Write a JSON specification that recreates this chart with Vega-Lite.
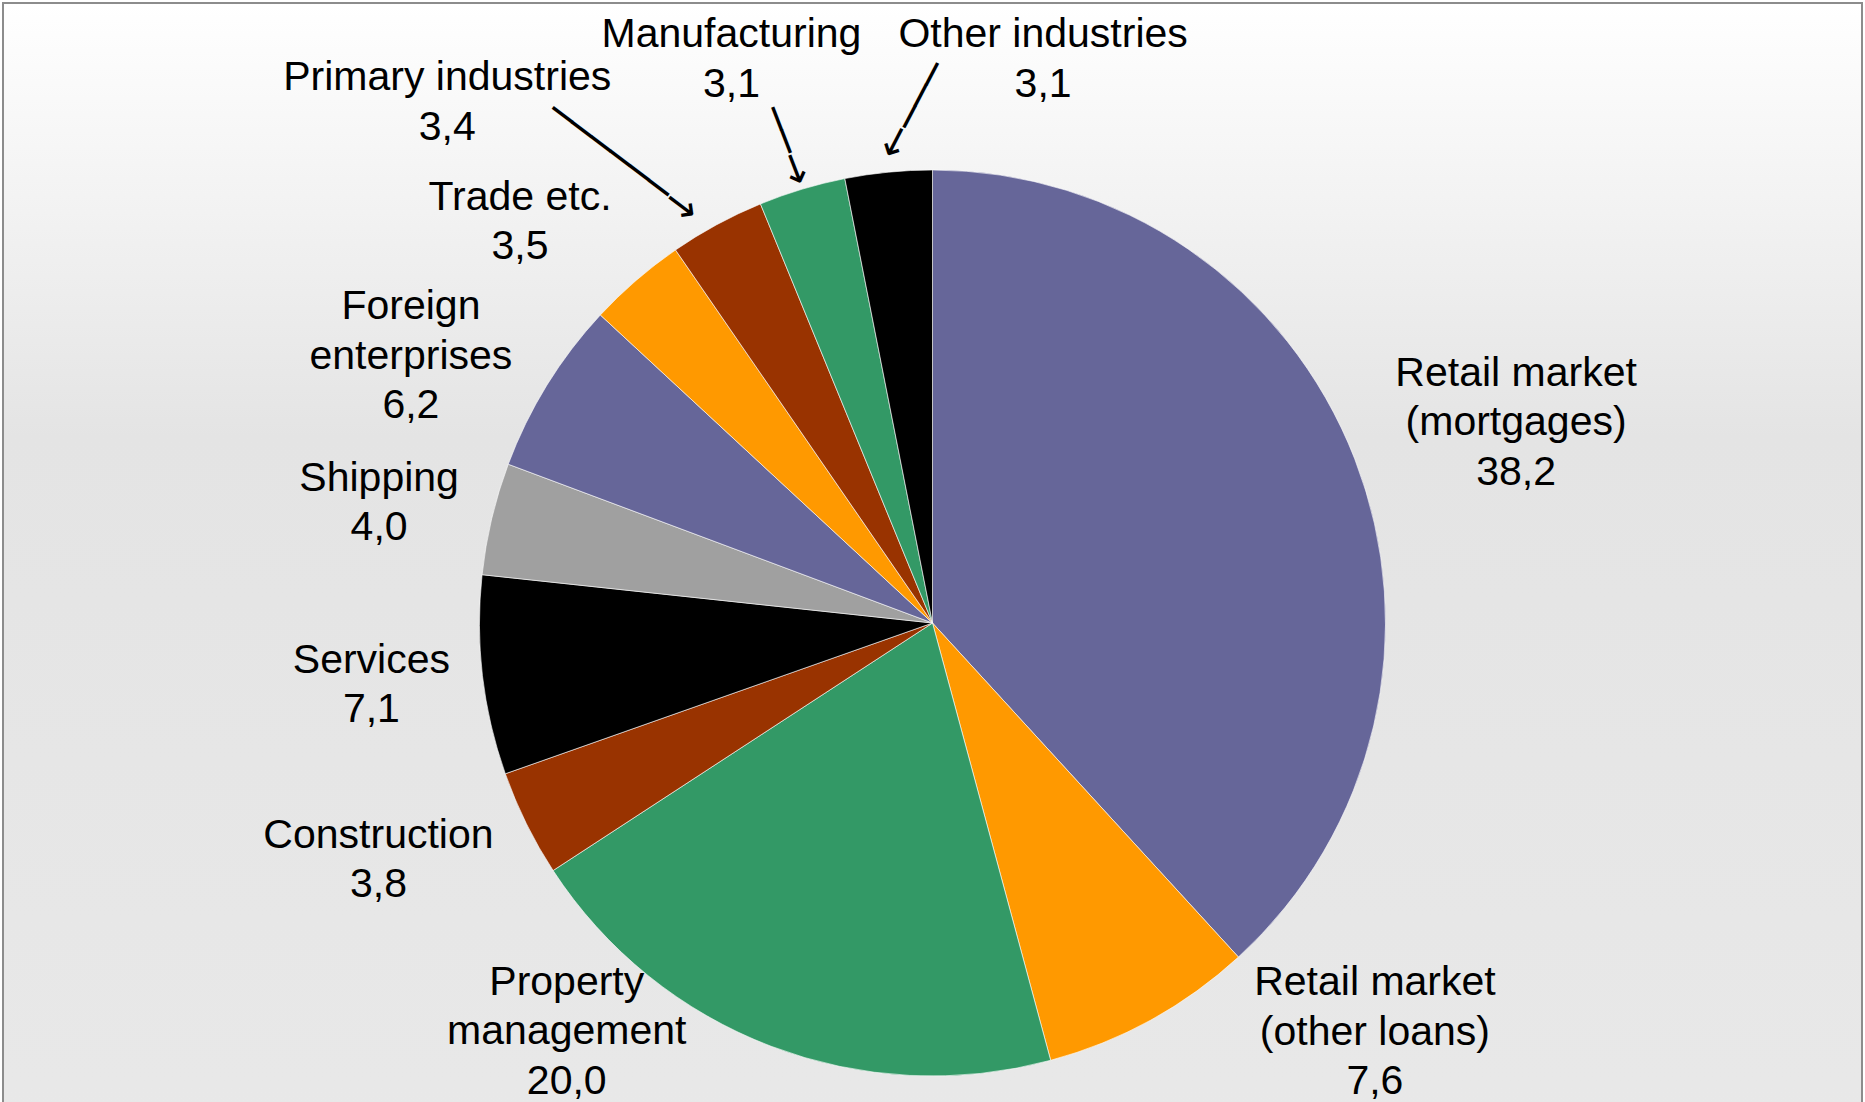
{
  "$schema": "https://vega.github.io/schema/vega-lite/v6.json",
  "width": 1859,
  "height": 1240,
  "autosize": {"type": "none"},
  "padding": {"left": 3, "top": 3, "right": 3, "bottom": 0},
  "background": "#ffffff",
  "view": {
    "fill": {"gradient": "linear", "x1": 0, "y1": 0, "x2": 0, "y2": 1, "stops": [{"offset": 0, "color": "#ffffff"}, {"offset": 0.35, "color": "#e4e4e4"}, {"offset": 1, "color": "#e9e9e9"}]},
    "stroke": "#8c8c8c",
    "strokeWidth": 2
  },
  "config": {"font": "Liberation Sans"},
  "data": {
    "values": [
      {"k": 1, "category": "Retail market\n(mortgages)", "value": 38.2},
      {"k": 2, "category": "Retail market\n(other loans)", "value": 7.6},
      {"k": 3, "category": "Property\nmanagement", "value": 20.0},
      {"k": 4, "category": "Construction", "value": 3.8},
      {"k": 5, "category": "Services", "value": 7.1},
      {"k": 6, "category": "Shipping", "value": 4.0},
      {"k": 7, "category": "Foreign\nenterprises", "value": 6.2},
      {"k": 8, "category": "Trade etc.", "value": 3.5},
      {"k": 9, "category": "Primary industries", "value": 3.4},
      {"k": 10, "category": "Manufacturing", "value": 3.1},
      {"k": 11, "category": "Other industries", "value": 3.1}
    ]
  },
  "transform": [
    {"calculate": "datum.category + '\\n' + replace(format(datum.value, '.1f'), '.', ',')", "as": "label"}
  ],
  "encoding": {
    "theta": {"field": "value", "type": "quantitative", "stack": true},
    "order": {"field": "k", "type": "quantitative"}
  },
  "layer": [
    {
      "mark": {"type": "arc", "outerRadius": 453, "stroke": "#ffffff", "strokeWidth": 0.6},
      "encoding": {
        "color": {
          "field": "category",
          "type": "nominal",
          "scale": {
            "domain": ["Retail market\n(mortgages)", "Retail market\n(other loans)", "Property\nmanagement", "Construction", "Services", "Shipping", "Foreign\nenterprises", "Trade etc.", "Primary industries", "Manufacturing", "Other industries"],
            "range": ["#666699", "#FF9900", "#339966", "#993300", "#000000", "#A0A0A0", "#666699", "#FF9900", "#993300", "#339966", "#000000"]
          },
          "legend": null
        }
      }
    },
    {
      "mark": {
        "type": "text",
        "radius": 580,
        "fontSize": 41,
        "lineHeight": 49.5,
        "lineBreak": "\n",
        "align": "center",
        "baseline": "middle",
        "color": "#000000",
        "dx": {"expr": "[43, 163, -159, -34, 15, 11, -28, -33, -209, -34, 167][datum.k - 1]"},
        "dy": {"expr": "[-39, -148, -182, -44, -29.5, -10.5, -11, 13.5, -34.5, -32.5, -10.5][datum.k - 1]"}
      },
      "encoding": {
        "text": {"field": "label"},
        "detail": {"field": "category"}
      }
    },
    {
      "mark": {
        "type": "text",
        "font": "DejaVu Sans",
        "fontSize": 40,
        "align": "right",
        "baseline": "middle",
        "color": "#000000",
        "radius": {"expr": "datum.k == 9 ? 472 : datum.k == 10 ? 458 : 469"},
        "angle": {"expr": "datum.k == 9 ? 37.1 : datum.k == 10 ? 68.9 : 117.6"},
        "dx": {"expr": "datum.k == 9 ? -6 : 0"},
        "dy": {"expr": "datum.k == 9 ? 15 : 0"},
        "text": {"expr": "datum.k == 9 ? '──────→' : datum.k == 10 ? '──→' : datum.k == 11 ? '───→' : ''"}
      },
      "encoding": {
        "detail": {"field": "category"}
      }
    }
  ]
}
